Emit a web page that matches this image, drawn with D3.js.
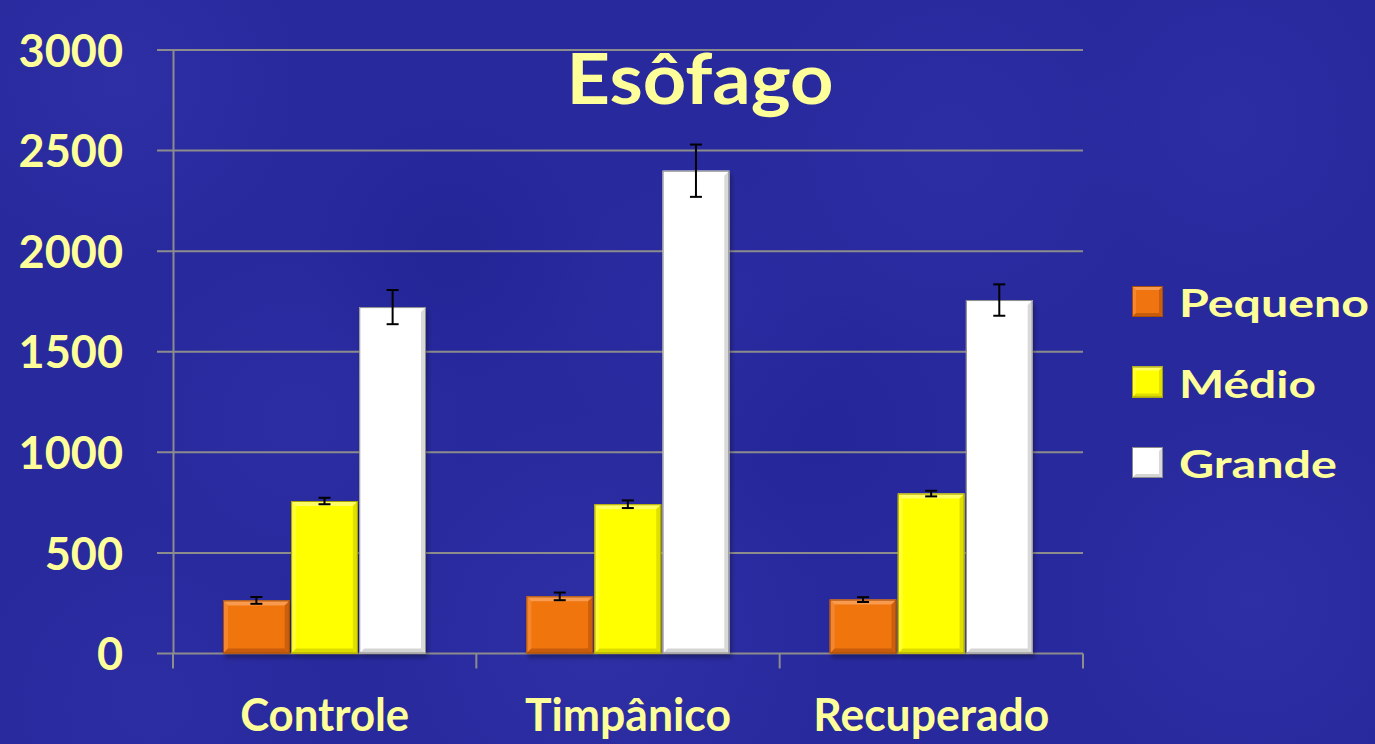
<!DOCTYPE html>
<html>
<head>
<meta charset="utf-8">
<script src="https://cdn.jsdelivr.net/npm/d3@7"></script>
<style>
  html, body { margin: 0; padding: 0; background: #27299b; overflow: hidden; }
  text { font-family: Lato, "Open Sans", sans-serif; font-weight: bold; fill: #ffff9a; }
</style>
</head>
<body>
<div id="chart"></div>
<script>
// data
var categories = ["Controle", "Timpânico", "Recuperado"];
var seriesNames = ["Pequeno", "Médio", "Grande"];
var pequeno = [264, 284, 268];
var medio = [758, 742, 795];
var grande = [1722, 2400, 1757];
var pequenoErr = [17, 19, 12];
var medioErr = [16, 19, 14];
var grandeErr = [85, 130, 78];
var yTicks = [0, 500, 1000, 1500, 2000, 2500, 3000];

var w = 1375, h = 744;
var plotLeft = 173, plotRight = 1083, plotTop = 50, plotBottom = 653.5;

var svg = d3.select("#chart").append("svg")
   .attr("width", w)
   .attr("height", h);

var defs = svg.append("defs");

var shadow = defs.append("filter").attr("id", "shadow")
   .attr("x", "-20%").attr("y", "-20%").attr("width", "140%").attr("height", "140%");
shadow.append("feDropShadow").attr("dx", 2).attr("dy", 4).attr("stdDeviation", 2)
   .attr("flood-color", "#000").attr("flood-opacity", 0.3);

// mottled background with soft radial patches
svg.append("rect").attr("width", w).attr("height", h).attr("fill", "#28299d");
var patches = [
   [120, 80, 180, "#3436ac", 0.45], [300, 420, 170, "#3335ab", 0.35],
   [600, 640, 230, "#3739af", 0.4], [950, 150, 200, "#3335ab", 0.35],
   [1250, 600, 190, "#3537ad", 0.4], [450, 250, 150, "#1d1e8c", 0.45],
   [820, 430, 150, "#1f2090", 0.4], [1230, 120, 160, "#3133a9", 0.4],
   [150, 700, 180, "#3335ab", 0.35], [700, 320, 160, "#2e30a6", 0.3]
];
patches.forEach(function(p, i) {
   var g = defs.append("radialGradient").attr("id", "patch" + i);
   g.append("stop").attr("offset", "0%").attr("stop-color", p[3]).attr("stop-opacity", p[4]);
   g.append("stop").attr("offset", "100%").attr("stop-color", p[3]).attr("stop-opacity", 0);
});
svg.append("g").selectAll("circle").data(patches).enter().append("circle")
   .attr("cx", d => d[0]).attr("cy", d => d[1]).attr("r", d => d[2])
   .attr("fill", (d, i) => "url(#patch" + i + ")");

//Scales
var xScale = d3.scaleBand()
   .domain(categories)
   .range([plotLeft, plotRight])
   .padding(0);

var groupScale = d3.scaleBand()
   .domain(seriesNames)
   .range([50, 253])
   .paddingInner(0.02);

var yScale = d3.scaleLinear()
   .domain([0, 3000])
   .range([plotBottom, plotTop]);

var gridColor = "#8c8c8c";

// grid lines
svg.append("g").selectAll("line")
   .data(yTicks.filter(d => d > 0))
   .enter().append("line")
   .attr("x1", plotLeft - 16).attr("x2", plotRight)
   .attr("y1", d => yScale(d)).attr("y2", d => yScale(d))
   .attr("stroke", gridColor).attr("stroke-width", 2);

// y axis
var yAxis = d3.axisLeft(yScale)
   .tickValues(yTicks)
   .tickSize(0)
   .tickPadding(50)
   .tickFormat(d3.format("d"));

var yg = svg.append("g")
   .attr("transform", "translate(" + plotLeft + ",0)")
   .call(yAxis);
yg.select(".domain").attr("stroke", gridColor).attr("stroke-width", 2);
yg.selectAll("text")
   .style("font-size", "45px")
   .attr("fill", "#ffff9a")
   .attr("dy", "0.36em");

// x axis
var xAxis = d3.axisBottom(xScale).tickSize(0).tickPadding(0);
var xg = svg.append("g")
   .attr("transform", "translate(0," + plotBottom + ")")
   .call(xAxis);
xg.select(".domain").remove();
xg.append("line").attr("x1", plotLeft - 16).attr("x2", plotRight)
   .attr("stroke", gridColor).attr("stroke-width", 2);
xg.selectAll(".bound").data([0, 1, 2, 3]).enter().append("line")
   .attr("class", "bound")
   .attr("x1", i => i < 3 ? xScale(categories[i]) : plotRight)
   .attr("x2", i => i < 3 ? xScale(categories[i]) : plotRight)
   .attr("y1", 0).attr("y2", 15)
   .attr("stroke", gridColor).attr("stroke-width", 2);
var xWidths = [169, 206, 236];
xg.selectAll(".tick text")
   .style("font-size", "45px")
   .attr("fill", "#ffff9a")
   .attr("y", 77)
   .attr("dy", 0)
   .attr("textLength", (d, i) => xWidths[i])
   .attr("lengthAdjust", "spacingAndGlyphs");

// bars
var colors = {
   "Pequeno": { fill: "#f07410", light: "#f8a056", dark: "#c25a0c", edge: "#a64c0a" },
   "Médio":   { fill: "#ffff00", light: "#ffff70", dark: "#d8d800", edge: "#a8a000" },
   "Grande":  { fill: "#ffffff", light: "#ffffff", dark: "#cfcfcf", edge: "#8a8a8a" }
};
var values = { "Pequeno": pequeno, "Médio": medio, "Grande": grande };
var errors = { "Pequeno": pequenoErr, "Médio": medioErr, "Grande": grandeErr };

var rows = [];
categories.forEach(function(c, ci) {
   seriesNames.forEach(function(s) {
      rows.push({ cat: c, s: s, v: values[s][ci], e: errors[s][ci] });
   });
});

var bev = 5;
var bars = svg.append("g").selectAll("g.bar")
   .data(rows).enter().append("g")
   .attr("class", "bar")
   .attr("filter", "url(#shadow)");

bars.each(function(d) {
   var g = d3.select(this);
   var x0 = xScale(d.cat) + groupScale(d.s);
   var x1 = x0 + groupScale.bandwidth();
   var y0 = yScale(d.v);
   var y1 = yScale(0);
   var c = colors[d.s];
   g.append("rect")
      .attr("x", x0).attr("y", y0)
      .attr("width", x1 - x0).attr("height", y1 - y0)
      .attr("fill", c.fill);
   var faces = [
      [[x0, y0], [x1, y0], [x1 - bev, y0 + bev], [x0 + bev, y0 + bev], c.light, 0.9],
      [[x0, y0], [x0 + bev, y0 + bev], [x0 + bev, y1 - bev], [x0, y1], c.light, 0.45],
      [[x1, y0], [x1, y1], [x1 - bev, y1 - bev], [x1 - bev, y0 + bev], c.dark, 0.8],
      [[x0, y1], [x0 + bev, y1 - bev], [x1 - bev, y1 - bev], [x1, y1], c.dark, 0.9]
   ];
   g.selectAll("polygon").data(faces).enter().append("polygon")
      .attr("points", f => f.slice(0, 4).map(p => p.join(",")).join(" "))
      .attr("fill", f => f[4]).attr("opacity", f => f[5]);
   g.append("rect")
      .attr("x", x0 + 0.5).attr("y", y0 + 0.5)
      .attr("width", x1 - x0 - 1).attr("height", y1 - y0 - 1)
      .attr("fill", "none").attr("stroke", c.edge).attr("stroke-width", 1);
});

// error bars
var eg = svg.append("g");
rows.forEach(function(d) {
   var cx = xScale(d.cat) + groupScale(d.s) + groupScale.bandwidth() / 2;
   var ya = yScale(d.v + d.e), yb = yScale(d.v - d.e);
   eg.append("line").attr("x1", cx).attr("x2", cx).attr("y1", ya).attr("y2", yb)
      .attr("stroke", "#000").attr("stroke-width", 2);
   [ya, yb].forEach(function(y) {
      eg.append("line").attr("x1", cx - 6).attr("x2", cx + 6).attr("y1", y).attr("y2", y)
         .attr("stroke", "#000").attr("stroke-width", 2);
   });
});

// title
svg.append("text")
   .attr("x", 700).attr("y", 104)
   .attr("text-anchor", "middle")
   .style("font-size", "71px")
   .attr("textLength", 267)
   .attr("lengthAdjust", "spacingAndGlyphs")
   .text("Esôfago");

// legend
var legendWidths = [190, 137, 158];
var legend = svg.append("g").selectAll("g")
   .data(seriesNames).enter().append("g")
   .attr("transform", (d, i) => "translate(1132," + (286 + i * 80.5) + ")");
legend.each(function(s) {
   var g = d3.select(this);
   var c = colors[s];
   var sz = 31, b = 4;
   g.append("rect").attr("width", sz).attr("height", sz).attr("fill", c.fill);
   var faces = [
      [[0, 0], [sz, 0], [sz - b, b], [b, b], c.light, 0.9],
      [[0, 0], [b, b], [b, sz - b], [0, sz], c.light, 0.45],
      [[sz, 0], [sz, sz], [sz - b, sz - b], [sz - b, b], c.dark, 0.8],
      [[0, sz], [b, sz - b], [sz - b, sz - b], [sz, sz], c.dark, 0.9]
   ];
   g.selectAll("polygon").data(faces).enter().append("polygon")
      .attr("points", f => f.slice(0, 4).map(p => p.join(",")).join(" "))
      .attr("fill", f => f[4]).attr("opacity", f => f[5]);
   g.append("rect").attr("x", 0.5).attr("y", 0.5).attr("width", sz - 1).attr("height", sz - 1)
      .attr("fill", "none").attr("stroke", c.edge);
});
legend.append("text")
   .attr("x", 47).attr("y", 31)
   .style("font-size", "38px")
   .attr("textLength", (d, i) => legendWidths[i])
   .attr("lengthAdjust", "spacingAndGlyphs")
   .text(d => d);
</script>
</body>
</html>
